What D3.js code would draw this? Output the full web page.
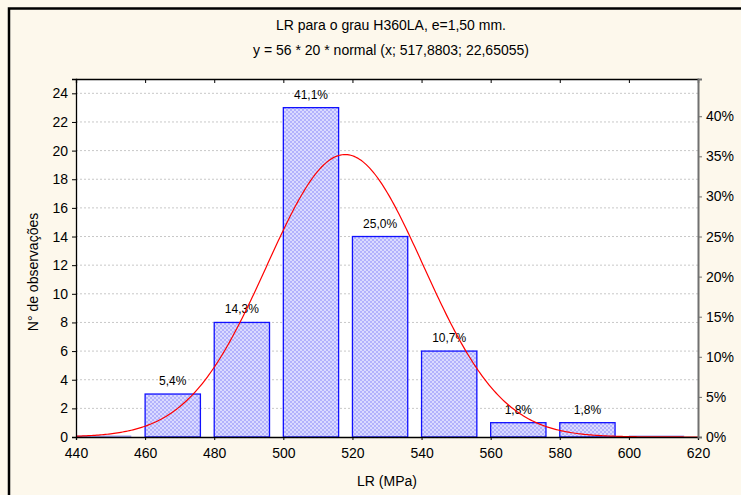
<!DOCTYPE html>
<html>
<head>
<meta charset="utf-8">
<script src="https://cdn.jsdelivr.net/npm/d3@7"></script>
<style>
  body { margin: 0; background: #fdf8ec; }
  text { font-family: 'Liberation Sans', Arial, sans-serif; fill: #000; }
</style>
</head>
<body>
<div id="chart"></div>
<script>
// data
const binStarts = [440, 460, 480, 500, 520, 540, 560, 580, 600]
const counts = [0, 3, 8, 23, 14, 6, 1, 1, 0]
const pctLabels = ['', '5,4%', '14,3%', '41,1%', '25,0%', '10,7%', '1,8%', '1,8%', '']
const xTicks = [440, 460, 480, 500, 520, 540, 560, 580, 600, 620]
const yTicks = [0, 2, 4, 6, 8, 10, 12, 14, 16, 18, 20, 22, 24]
const pctTicks = [0, 5, 10, 15, 20, 25, 30, 35, 40]
const total = 56
const binW = 20
const fitMean = 517.8803
const fitSd = 22.65055

const W = 741
const H = 495
const m = { left: 76, right: 43, top: 79, bottom: 58 }
const innerW = W - m.left - m.right
const innerH = H - m.top - m.bottom
const fontFam = "'Liberation Sans', Arial, sans-serif"

const svg = d3.select('#chart').append('svg')
  .attr('width', W)
  .attr('height', H)

// checkered fill for bars
const defs = svg.append('defs')
const pat = defs.append('pattern')
  .attr('id', 'hatch')
  .attr('width', 4)
  .attr('height', 4)
  .attr('patternUnits', 'userSpaceOnUse')
pat.append('rect').attr('width', 4).attr('height', 4).attr('fill', '#dadaff')
pat.append('rect').attr('width', 2).attr('height', 2).attr('fill', '#b2b2fc')
pat.append('rect').attr('x', 2).attr('y', 2).attr('width', 2).attr('height', 2).attr('fill', '#b2b2fc')

// outer frame
svg.append('rect')
  .attr('x', 0).attr('y', 0).attr('width', W).attr('height', H)
  .attr('fill', '#fdf8ec')
svg.append('path')
  .attr('d', 'M9,' + H + ' V8.5 H' + W)
  .attr('fill', 'none')
  .attr('stroke', '#000')
  .attr('stroke-width', 2.5)

// titles
svg.append('text')
  .attr('x', 391).attr('y', 30)
  .attr('text-anchor', 'middle')
  .attr('font-size', 14)
  .text('LR para o grau H360LA, e=1,50 mm.')
svg.append('text')
  .attr('x', 391).attr('y', 55)
  .attr('text-anchor', 'middle')
  .attr('font-size', 14)
  .text('y = 56 * 20 * normal (x; 517,8803; 22,65055)')

const x = d3.scaleLinear().domain([440, 620]).range([0, innerW])
const y = d3.scaleLinear().domain([0, 25]).range([innerH, 0])
const yPct = d3.scaleLinear().domain([0, 25 / total * 100]).range([innerH, 0])

const g = svg.append('g').attr('transform', 'translate(' + m.left + ',' + m.top + ')')

g.append('rect')
  .attr('width', innerW)
  .attr('height', innerH)
  .attr('fill', '#fff')

// grid
g.selectAll('.grid')
  .data(yTicks.filter(d => d > 0))
  .enter().append('line')
  .attr('x1', 0).attr('x2', innerW)
  .attr('y1', d => y(d)).attr('y2', d => y(d))
  .attr('stroke', '#c8c8c8')
  .attr('stroke-dasharray', '2,2')

// bars
const bars = binStarts.map((s, i) => ({ s: s, c: counts[i], lbl: pctLabels[i] }))
g.selectAll('.bar')
  .data(bars)
  .enter().append('rect')
  .attr('x', d => x(d.s))
  .attr('width', x(d3.min(binStarts) + binW * 0.8) - x(d3.min(binStarts)))
  .attr('y', d => d.c > 0 ? y(d.c) : innerH - 1.5)
  .attr('height', d => d.c > 0 ? innerH - y(d.c) : 1.5)
  .attr('fill', d => d.c > 0 ? 'url(#hatch)' : '#a0a0f0')
  .attr('stroke', d => d.c > 0 ? '#1010ff' : 'none')
  .attr('stroke-width', 1.3)

g.selectAll('.lbl')
  .data(bars.filter(d => d.lbl))
  .enter().append('text')
  .attr('x', d => x(d.s + binW * 0.4))
  .attr('y', d => y(d.c) - 9)
  .attr('text-anchor', 'middle')
  .attr('font-size', 12)
  .text(d => d.lbl)

// fitted normal curve
const normal = v => total * binW * Math.exp(-0.5 * Math.pow((v - fitMean) / fitSd, 2)) / (fitSd * Math.sqrt(2 * Math.PI))
const curveX = d3.range(440, 620.5, 0.5)
g.append('path')
  .datum(curveX)
  .attr('fill', 'none')
  .attr('stroke', '#ff0000')
  .attr('stroke-width', 1.2)
  .attr('d', d3.line().x(d => x(d)).y(d => y(normal(d))))

// axes
const xAxis = g.append('g')
  .attr('transform', 'translate(0,' + innerH + ')')
  .call(d3.axisBottom(x).tickValues(xTicks).tickSize(3).tickPadding(8))
const xTop = g.append('g')
  .call(d3.axisTop(x).tickValues(xTicks).tickSize(-4).tickFormat(''))
const yAxis = g.append('g')
  .call(d3.axisLeft(y).tickValues(yTicks).tickSize(4).tickPadding(4))
const yRight = g.append('g')
  .attr('transform', 'translate(' + innerW + ',0)')
  .call(d3.axisRight(yPct).tickValues(pctTicks).tickSize(4).tickPadding(4).tickFormat(d => d + '%'))

;[xAxis, xTop, yAxis, yRight].forEach(a => {
  a.attr('font-size', 14).attr('font-family', fontFam)
  a.select('.domain').attr('stroke', '#000').attr('stroke-width', 1.3)
  a.selectAll('.tick line').attr('stroke', '#000')
})
yRight.select('.domain').attr('stroke', '#707070').attr('stroke-width', 2)
yRight.selectAll('.tick line').attr('stroke', '#707070')

// axis titles
svg.append('text')
  .attr('x', m.left + innerW / 2)
  .attr('y', 486)
  .attr('text-anchor', 'middle')
  .attr('font-size', 14)
  .text('LR (MPa)')
svg.append('text')
  .attr('transform', 'translate(38,' + (m.top + innerH / 2 + 14) + ') rotate(-90)')
  .attr('text-anchor', 'middle')
  .attr('font-size', 14)
  .text('N° de observações')
</script>
</body>
</html>
